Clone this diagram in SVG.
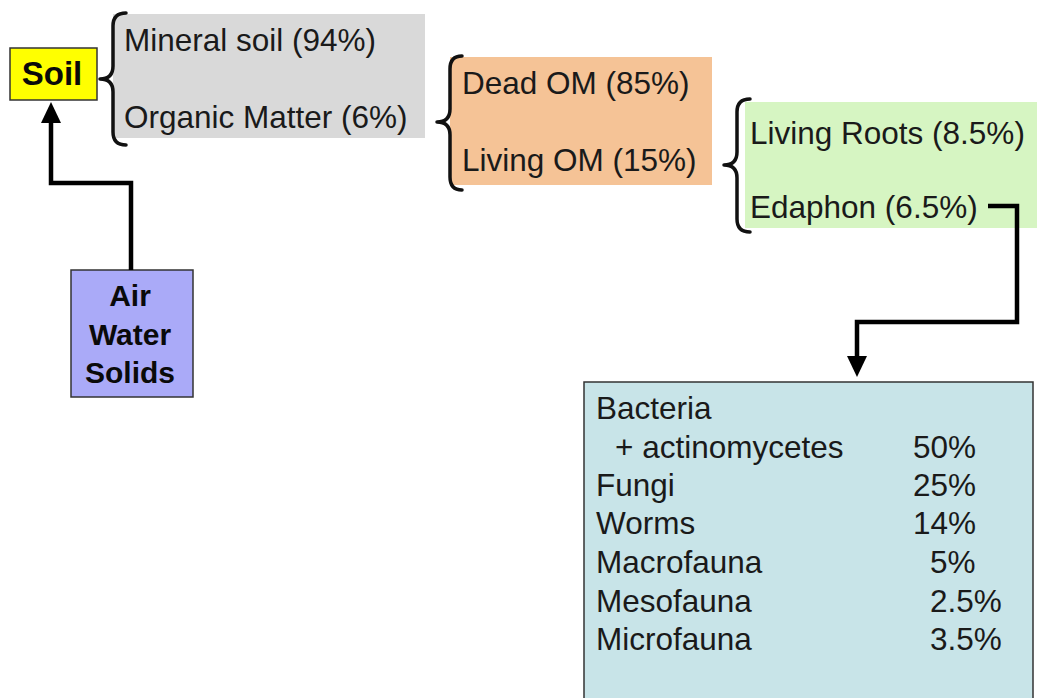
<svg xmlns="http://www.w3.org/2000/svg" width="1045" height="698" viewBox="0 0 1045 698">
<style>
.t{font-family:"Liberation Sans",Arial,sans-serif;font-size:31.5px;fill:#1a1a1a}
.b{font-family:"Liberation Sans",Arial,sans-serif;font-weight:bold;fill:#0a0a0a}
.br{fill:none;stroke:#111;stroke-width:3.5;stroke-linecap:round;stroke-linejoin:round}
.c{fill:none;stroke:#000;stroke-width:4.5;stroke-linejoin:miter}
</style>
<defs>
<marker id="au" markerUnits="userSpaceOnUse" markerWidth="20" markerHeight="22" refX="10" refY="1" viewBox="0 0 20 22">
<path d="M10,1 L19,21 L1,21 Z" fill="#000"/>
</marker>
</defs>
<rect width="1045" height="698" fill="#fff"/>
<g id="soil">
<rect x="10" y="48" width="87" height="52" fill="#ffff00" stroke="#333" stroke-width="1.5"/>
<text class="b" x="52" y="85" font-size="33" text-anchor="middle">Soil</text>
</g>
<g id="soil-parts">
<rect x="113" y="14" width="312" height="124" fill="#d9d9d9"/>
<path class="br" d="M126,13 Q113,13 113,26 L113,66 Q113,79 100,79 Q113,79 113,92 L113,132 Q113,145 126,145"/>
<text class="t" x="124" y="51">Mineral soil (94%)</text>
<text class="t" x="124" y="128">Organic Matter (6%)</text>
</g>
<g id="om-parts">
<rect x="450" y="57" width="262" height="128" fill="#f5c396"/>
<path class="br" d="M462,56 Q450,56 450,69 L450,109 Q450,122 437,122 Q450,122 450,135 L450,177 Q450,190 462,190"/>
<text class="t" x="462" y="94">Dead OM (85%)</text>
<text class="t" x="462" y="171">Living OM (15%)</text>
</g>
<g id="living-om">
<rect x="745" y="102" width="292" height="126" fill="#d6f5c2"/>
<path class="br" d="M750,99 Q737,99 737,112 L737,152 Q737,165 724,165 Q737,165 737,178 L737,219 Q737,232 750,232"/>
<text class="t" x="750" y="144">Living Roots (8.5%)</text>
<text class="t" x="750" y="218">Edaphon (6.5%)</text>
</g>
<g id="air-water-solids">
<rect x="71" y="270" width="122" height="127" fill="#aaaaf8" stroke="#333" stroke-width="1.5"/>
<text class="b" x="130" y="306" font-size="30" text-anchor="middle">Air</text>
<text class="b" x="130" y="345" font-size="30" text-anchor="middle">Water</text>
<text class="b" x="130" y="383" font-size="30" text-anchor="middle">Solids</text>
</g>
<g id="edaphon">
<rect x="584" y="382" width="449" height="330" fill="#c8e4e8" stroke="#333" stroke-width="1.5"/>
<text class="t" x="596" y="419">Bacteria</text>
<text class="t" x="615" y="458">+ actinomycetes</text>
<text class="t" x="913" y="458">50%</text>
<text class="t" x="596" y="496">Fungi</text>
<text class="t" x="913" y="496">25%</text>
<text class="t" x="596" y="534">Worms</text>
<text class="t" x="913" y="534">14%</text>
<text class="t" x="596" y="573">Macrofauna</text>
<text class="t" x="930" y="573">5%</text>
<text class="t" x="596" y="612">Mesofauna</text>
<text class="t" x="930" y="612">2.5%</text>
<text class="t" x="596" y="650">Microfauna</text>
<text class="t" x="930" y="650">3.5%</text>
</g>
<g id="connectors">
<path class="c" d="M131,270 L131,183 L51,183 L51,122"/>
<path d="M41,123 L61,123 L51,102 Z" fill="#000"/>
<path class="c" d="M988,206 L1017,206 L1017,322 L857,322 L857,358"/>
<path d="M847,356 L867,356 L857,377 Z" fill="#000"/>
</g>
</svg>
